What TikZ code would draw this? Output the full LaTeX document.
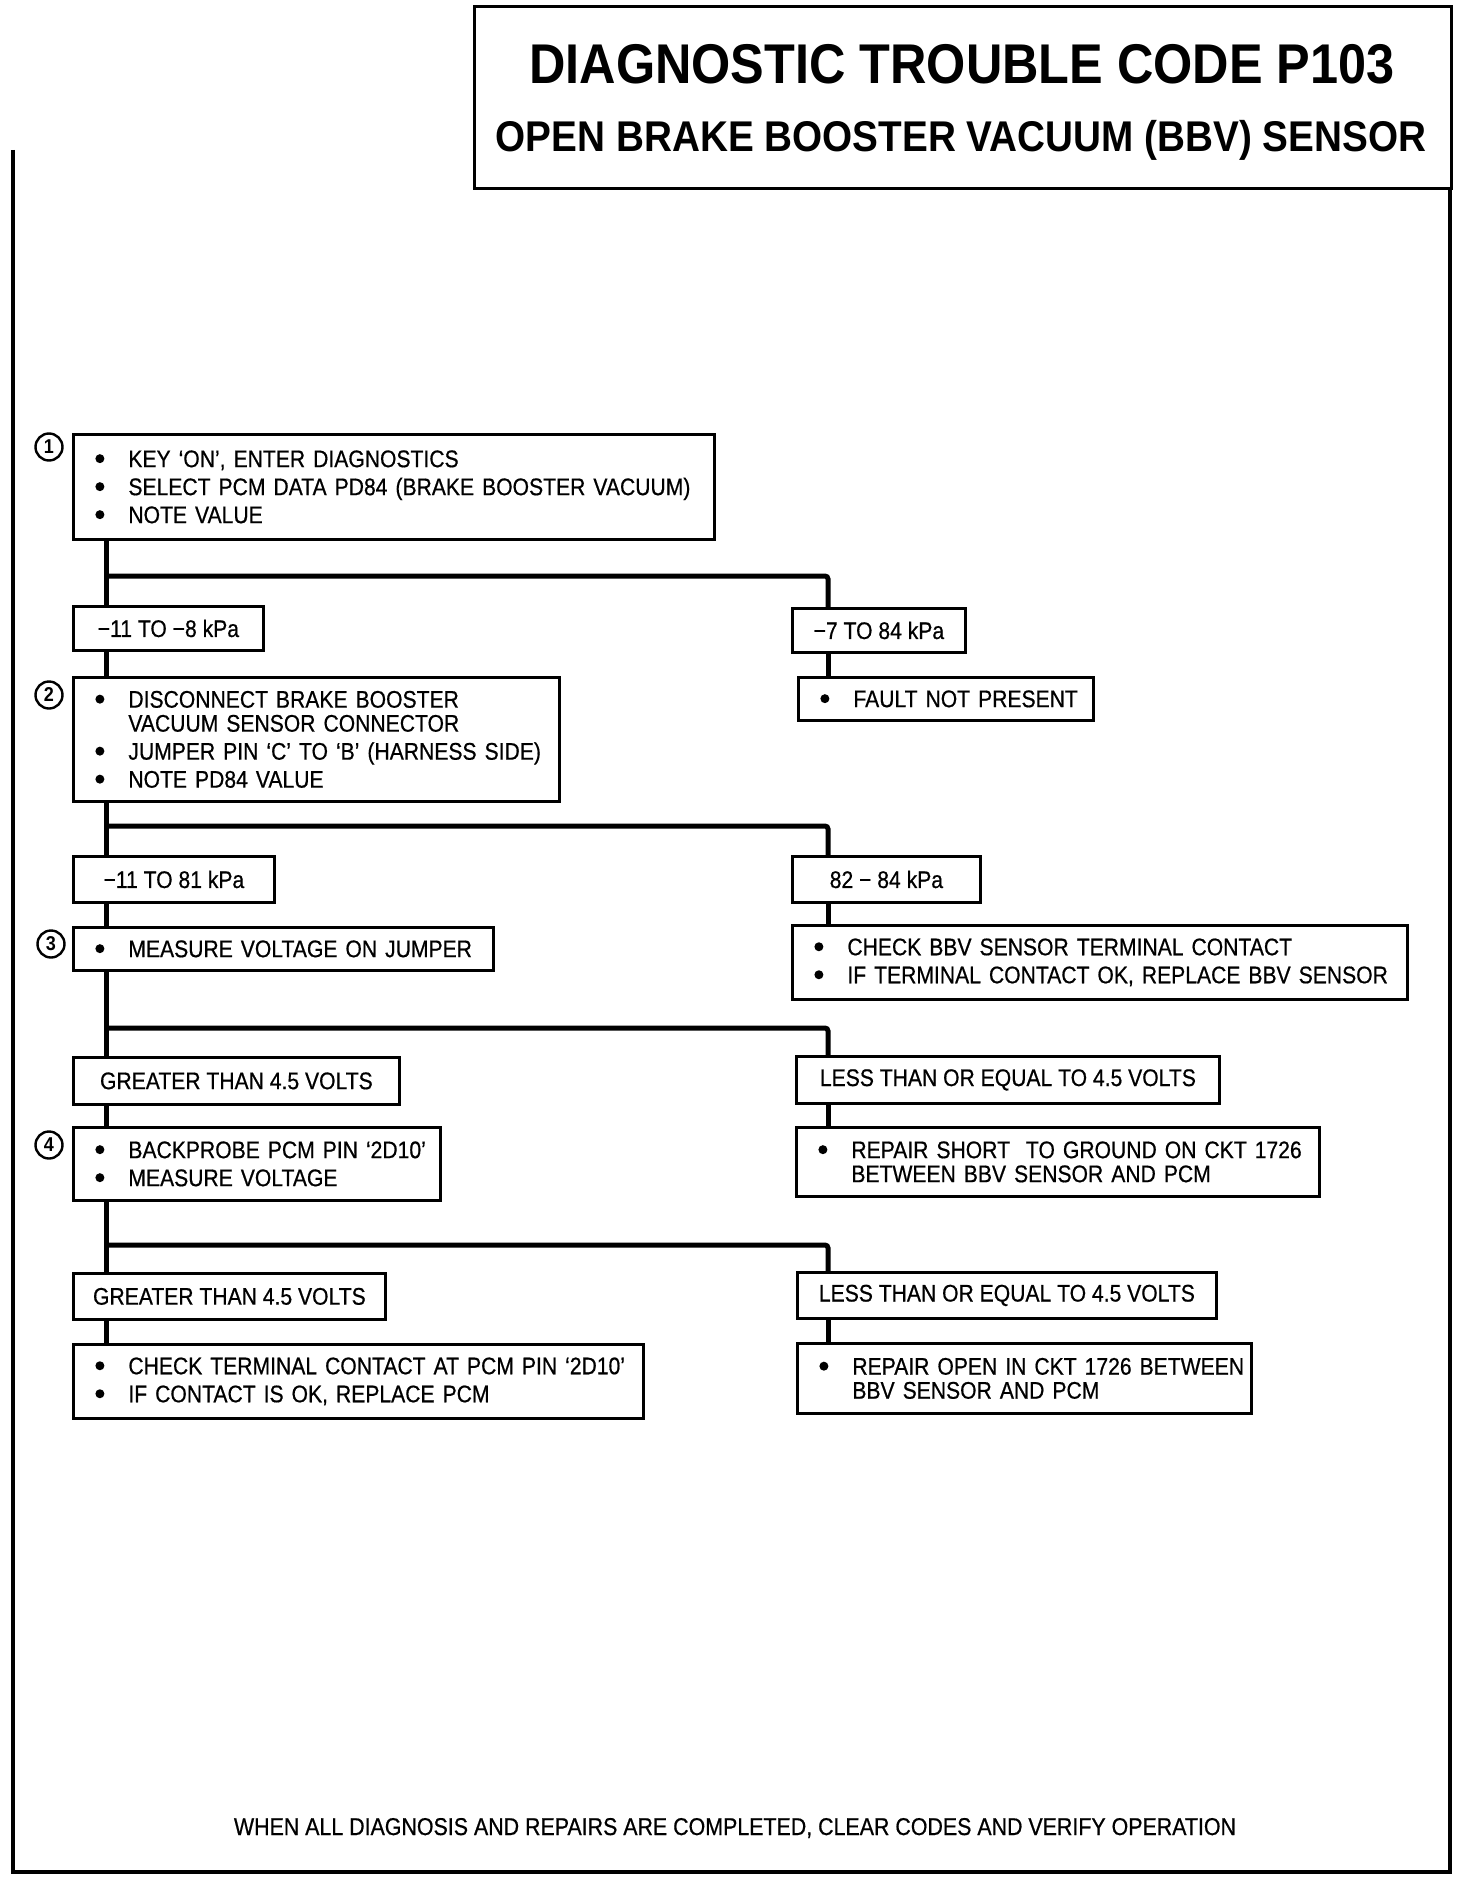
\documentclass[tikz,border=0pt]{standalone}
\usepackage{fontspec}
\setmainfont{Liberation Sans}[FakeStretch=0.9]
\newfontfamily\bodyfont{Liberation Sans}[FakeStretch=0.88, FakeBold=0.6]
\tikzset{
  link/.style={line width=5pt, rounded corners=3pt},
  boxline/.style={draw, line width=2.8pt},
  stepbox/.style={boxline, anchor=north west, inner xsep=18pt, inner ysep=0pt, align=left, font=\bodyfont\fontsize{24}{24}\selectfont},
  valbox/.style={boxline, anchor=north west, inner sep=0pt, align=center, font=\bodyfont\fontsize{24}{24}\selectfont},
  stepnum/.style={draw, circle, line width=2.4pt, minimum size=27pt, inner sep=0pt, font=\bfseries\fontsize{20}{20}\selectfont},
}
\newcommand{\dotmark}{\tikz[baseline=-8.5pt]\fill (0,0) circle (4.5pt);}
\newcommand{\itm}[1]{\mbox{\makebox[37pt][l]{\hspace*{4pt}\dotmark}#1}}
\newcommand{\cnt}[1]{\mbox{\hspace*{37pt}#1}}

\begin{document}
\begin{tikzpicture}[x=1pt,y=-1pt]
        \useasboundingbox (0,0) rectangle (1472,1886);
        % frame and title
        \draw[line width=4pt] (13,150) -- (13,1872) -- (1450,1872) -- (1450,187);
        \node[boxline, line width=3.2pt, anchor=north west, minimum width=977pt, minimum height=182pt] (titlebox) at (473,5) {};
        \node[anchor=base, font=\fontsize{56}{56}\selectfont\bfseries] (t1) at (962,84) {DIAGNOSTIC TROUBLE CODE P103};
        \node[anchor=base, font=\fontsize{43}{43}\selectfont\bfseries] (t2) at (961,152) {OPEN BRAKE BOOSTER VACUUM (BBV) SENSOR};

        % steps on the left
        \node[stepbox, text width=605pt, minimum height=105pt] (s1) at (72,433)
          {\itm{KEY ‘ON’, ENTER DIAGNOSTICS}\\[4pt]\itm{SELECT PCM DATA PD84 (BRAKE BOOSTER VACUUM)}\\[4pt]\itm{NOTE VALUE}};
        \node[stepbox, text width=450pt, minimum height=124pt] (s2) at (72,676)
          {\itm{DISCONNECT BRAKE BOOSTER}\\\cnt{VACUUM SENSOR CONNECTOR}\\[4pt]\itm{JUMPER PIN ‘C’ TO ‘B’ (HARNESS SIDE)}\\[4pt]\itm{NOTE PD84 VALUE}};
        \node[stepbox, text width=384pt, minimum height=43pt] (s3) at (72,926)
          {\itm{MEASURE VOLTAGE ON JUMPER}};
        \node[stepbox, text width=331pt, minimum height=73pt] (s4) at (72,1126)
          {\itm{BACKPROBE PCM PIN ‘2D10’}\\[4pt]\itm{MEASURE VOLTAGE}};
        \node[stepbox, text width=534pt, minimum height=74pt] (s5) at (72,1343)
          {\itm{CHECK TERMINAL CONTACT AT PCM PIN ‘2D10’}\\[4pt]\itm{IF CONTACT IS OK, REPLACE PCM}};

        % results on the right
        \node[stepbox, text width=259pt, minimum height=43pt] (f1) at (797,676)
          {\itm{FAULT NOT PRESENT}};
        \node[stepbox, text width=579pt, minimum height=74pt] (f2) at (791,924)
          {\itm{CHECK BBV SENSOR TERMINAL CONTACT}\\[4pt]\itm{IF TERMINAL CONTACT OK, REPLACE BBV SENSOR}};
        \node[stepbox, text width=487pt, minimum height=69pt] (f3) at (795,1126)
          {\itm{REPAIR SHORT\ \ TO GROUND ON CKT 1726}\\\cnt{BETWEEN BBV SENSOR AND PCM}};
        \node[stepbox, text width=418pt, minimum height=70pt] (f4) at (796,1342)
          {\itm{REPAIR OPEN IN CKT 1726 BETWEEN}\\\cnt{BBV SENSOR AND PCM}};

        % values
        \node[valbox, minimum width=190pt, minimum height=44pt] (v1) at (72,605) {−11 TO −8 kPa};
        \node[valbox, minimum width=173pt, minimum height=44pt] (w1) at (791,607) {−7 TO 84 kPa};
        \node[valbox, minimum width=201pt, minimum height=46pt] (v2) at (72,855) {−11 TO 81 kPa};
        \node[valbox, minimum width=188pt, minimum height=46pt] (w2) at (791,855) {82 − 84 kPa};
        \node[valbox, minimum width=326pt, minimum height=47pt] (v3) at (72,1056) {GREATER THAN 4.5 VOLTS};
        \node[valbox, minimum width=423pt, minimum height=47pt] (w3) at (795,1055) {LESS THAN OR EQUAL TO 4.5 VOLTS};
        \node[valbox, minimum width=312pt, minimum height=46pt] (v4) at (72,1272) {GREATER THAN 4.5 VOLTS};
        \node[valbox, minimum width=419pt, minimum height=46pt] (w4) at (796,1271) {LESS THAN OR EQUAL TO 4.5 VOLTS};

        % step numbers
        \node[stepnum] (c1) at (49,447) {1};
        \node[stepnum] (c2) at (49,695) {2};
        \node[stepnum] (c3) at (51,944) {3};
        \node[stepnum] (c4) at (49,1145) {4};

        % trunk and branches
        \coordinate (trunk) at (106,0);
        \coordinate (rtrunk) at (828,0);
        \coordinate (j1) at (106,576);
        \coordinate (j2) at (106,826);
        \coordinate (j3) at (106,1028);
        \coordinate (j4) at (106,1245);
        \foreach \a/\b in {s1/v1,v1/s2,s2/v2,v2/s3,s3/v3,v3/s4,s4/v4,v4/s5}{
          \draw[link] (\a.south -| trunk) -- (\b.north -| trunk);
        }
        \foreach \n in {1,2,3,4}{
          \draw[link] (j\n) -| (w\n.north -| rtrunk);
          \draw[link] (w\n.south -| rtrunk) -- (f\n.north -| rtrunk);
        }

        % footer
        \node[anchor=base, font=\bodyfont\fontsize{24.3}{24.3}\selectfont] (foot) at (735,1835)
          {WHEN ALL DIAGNOSIS AND REPAIRS ARE COMPLETED, CLEAR CODES AND VERIFY OPERATION};
\end{tikzpicture}
\end{document}
